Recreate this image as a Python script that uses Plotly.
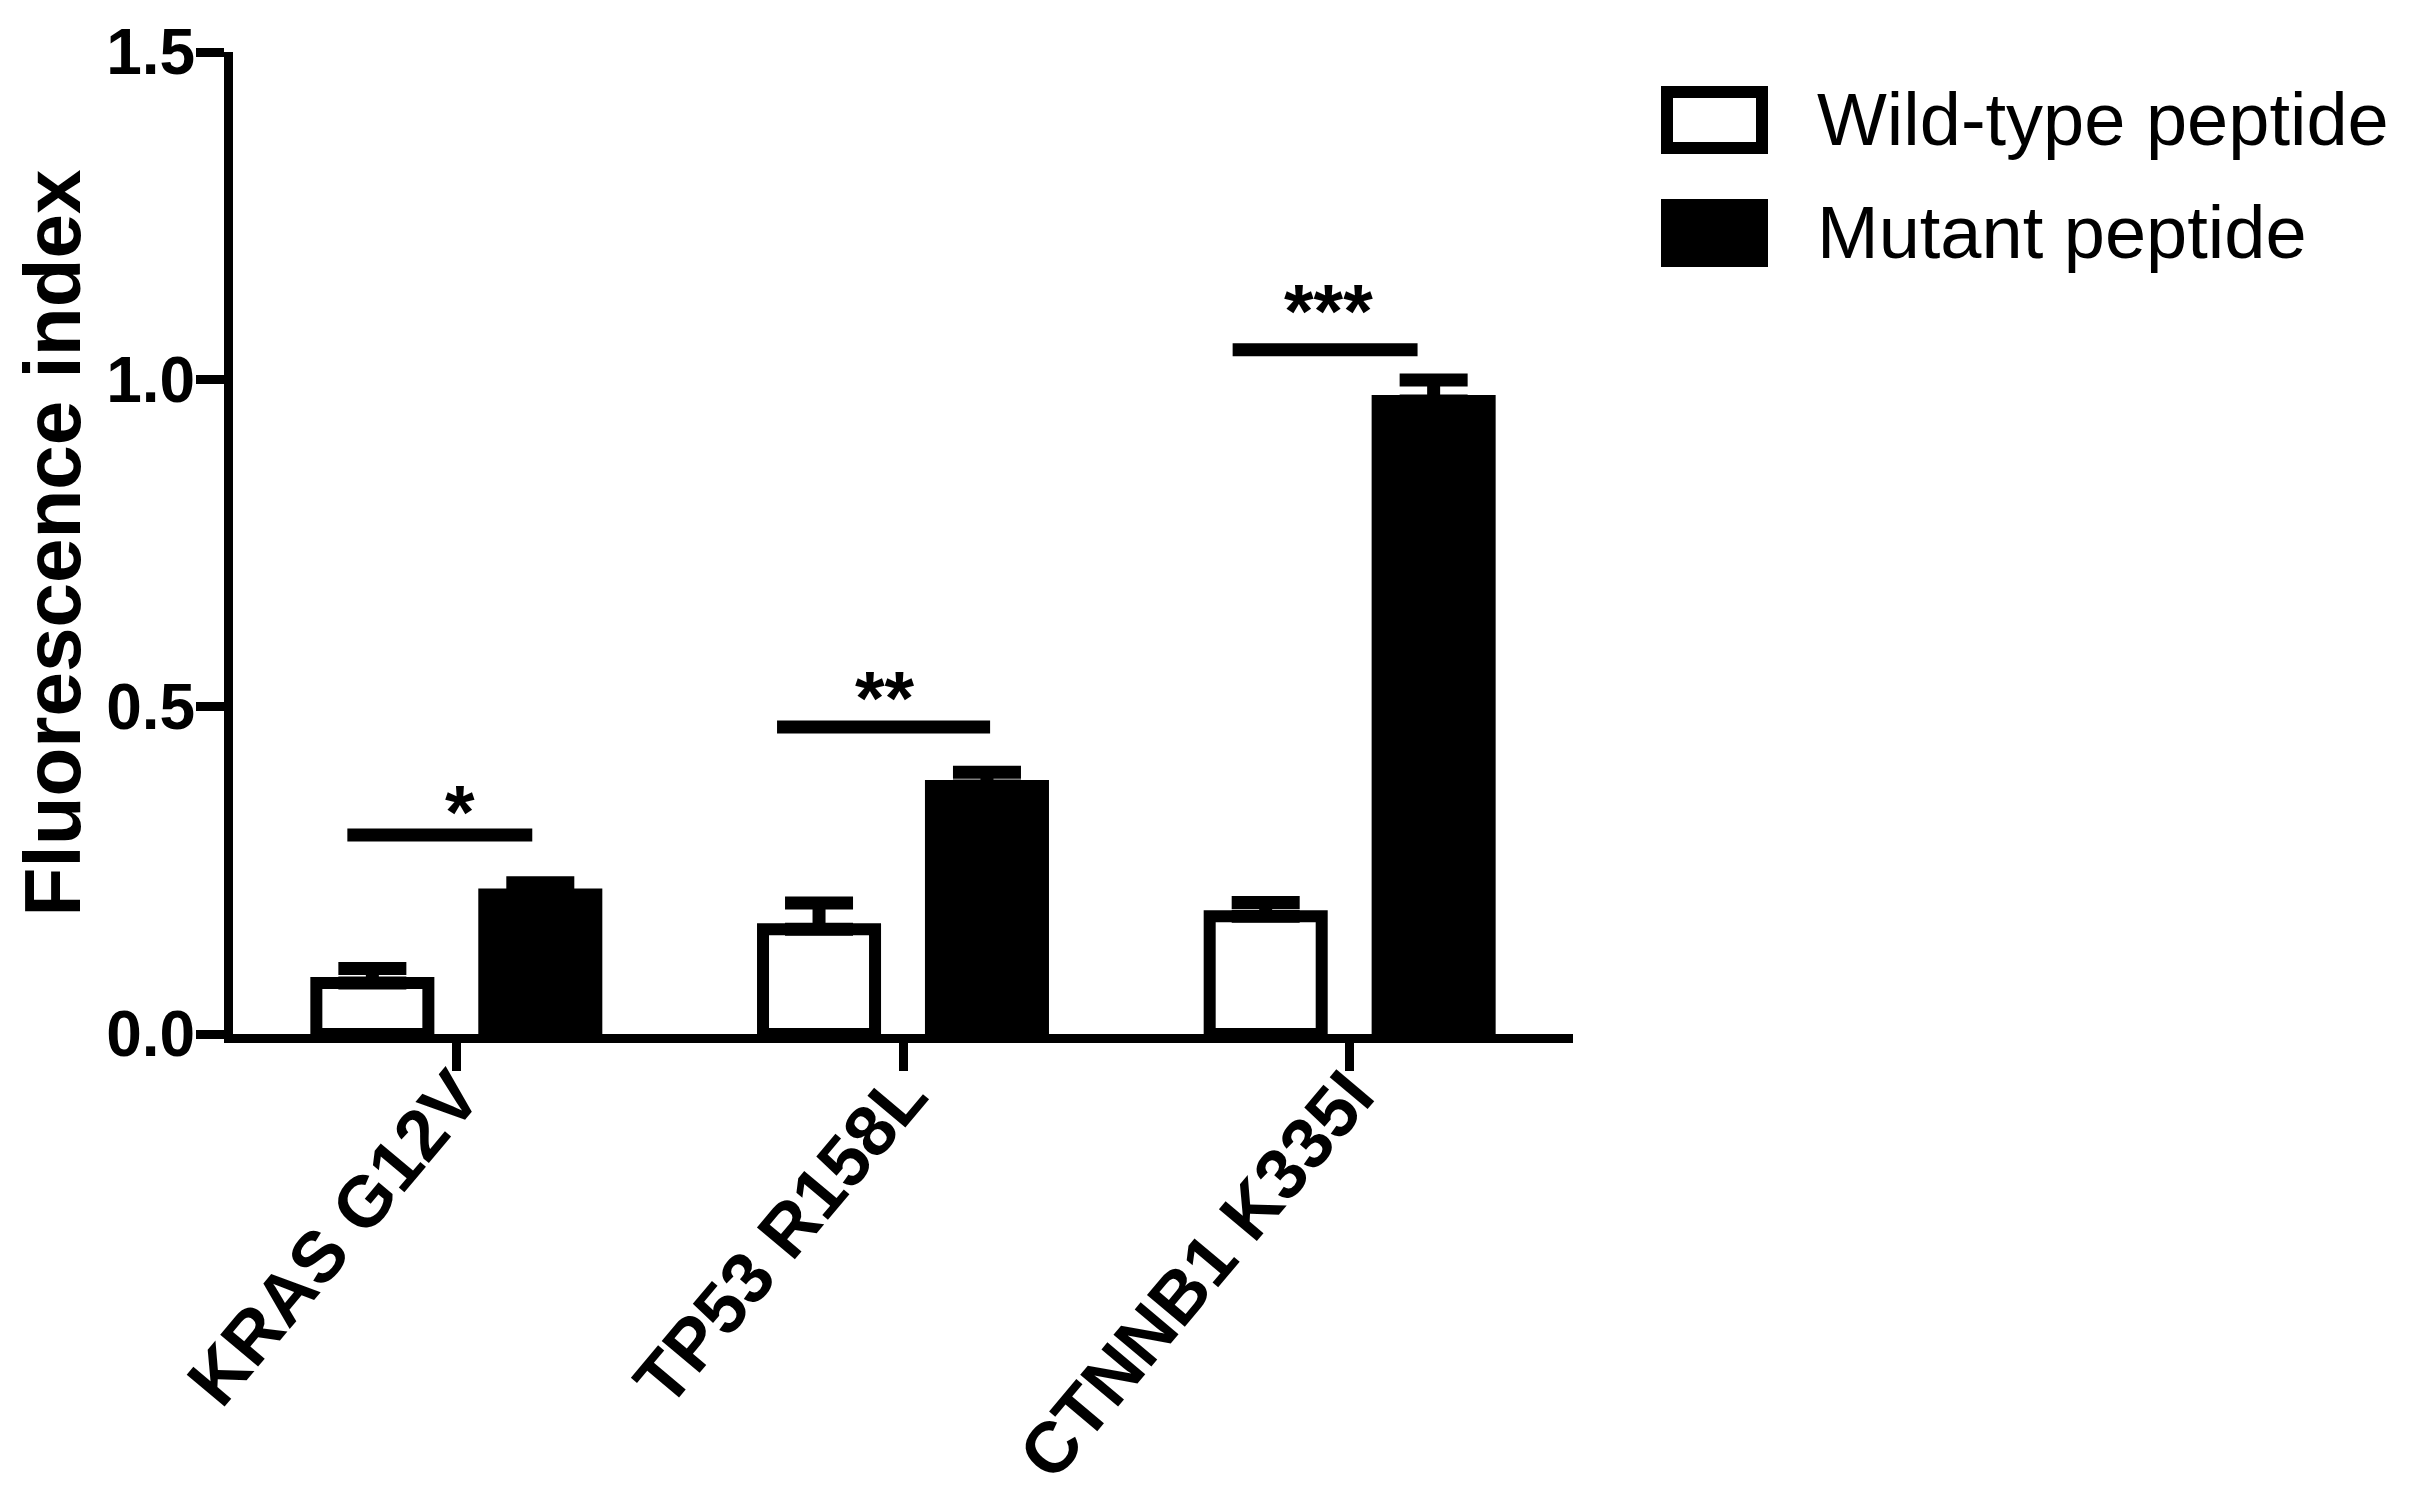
import plotly.graph_objects as go

categories = ["KRAS G12V", "TP53 R158L", "CTNNB1 K335I"]
series_names = ["Wild-type peptide", "Mutant peptide"]
wild_type = [0.078, 0.160, 0.180]
wild_type_err = [0.022, 0.040, 0.021]
mutant = [0.213, 0.379, 0.967]
mutant_err = [0.018, 0.021, 0.032]

# significance brackets (y level, left/right extent relative to the group centre)
sig_labels = ["*", "**", "***"]
sig_y = [0.304, 0.469, 1.045]
sig_left = [-0.244, -0.282, -0.262]
sig_right = [0.170, 0.195, 0.152]
star_y = [0.353, 0.527, 1.119]
star_dx = [0.009, -0.040, -0.047]

y_ticks = [0, 0.5, 1.0, 1.5]

# the browser puts the figure 8px in from the page corner (default body margin)
PAGE_OFFSET = 8
W, H = 2409 - PAGE_OFFSET, 1512 - PAGE_OFFSET
M_L, M_R, M_T, M_B = 225, 836, 44, 478
SANS = "Liberation Sans, Arial, Helvetica"


def paper_x(px):
    return (px - PAGE_OFFSET - M_L) / (W - M_L - M_R)


def paper_y(py):
    return (H - M_B - (py - PAGE_OFFSET)) / (H - M_T - M_B)


xs = list(range(len(categories)))

fig = go.Figure()
for name, vals, errs, fill in [
    (series_names[0], wild_type, wild_type_err, "white"),
    (series_names[1], mutant, mutant_err, "black"),
]:
    fig.add_trace(
        go.Bar(
            x=xs,
            y=vals,
            name=name,
            marker=dict(color=fill, line=dict(color="black", width=12)),
            error_y=dict(
                type="data",
                array=errs,
                arrayminus=[0] * len(errs),
                symmetric=False,
                color="black",
                thickness=13,
                width=34,
            ),
            showlegend=False,
        )
    )

for i, x in enumerate(xs):
    fig.add_trace(
        go.Scatter(
            x=[x + sig_left[i], x + sig_right[i]],
            y=[sig_y[i], sig_y[i]],
            mode="lines",
            line=dict(color="black", width=13),
            showlegend=False,
            hoverinfo="skip",
        )
    )
    fig.add_annotation(
        x=x + star_dx[i],
        y=star_y[i],
        text=sig_labels[i],
        showarrow=False,
        yanchor="middle",
        yshift=-9,
        font=dict(family=SANS, size=76, color="black", weight="bold"),
    )

# legend drawn by hand so the swatches can be as large as in the original
legend_rows = [(92, 148, "white"), (205, 261, "black")]
for (top, bottom, fill), name in zip(legend_rows, series_names):
    fig.add_shape(
        type="rect",
        xref="paper",
        yref="paper",
        x0=paper_x(1667),
        x1=paper_x(1762),
        y0=paper_y(bottom),
        y1=paper_y(top),
        fillcolor=fill,
        line=dict(color="black", width=12),
    )
    fig.add_annotation(
        xref="paper",
        yref="paper",
        x=paper_x(1815),
        y=paper_y((top + bottom) / 2 - 1),
        text=name,
        showarrow=False,
        xanchor="left",
        yanchor="middle",
        font=dict(family=SANS, size=74, color="black"),
    )

fig.update_layout(
    width=W,
    height=H,
    margin=dict(l=M_L, r=M_R, t=M_T, b=M_B, autoexpand=False),
    paper_bgcolor="white",
    plot_bgcolor="white",
    barmode="group",
    bargap=0.248,
    bargroupgap=0.333,
    showlegend=False,
)

fig.update_xaxes(
    range=[-0.5, 2.5],
    tickvals=xs,
    ticktext=categories,
    tickangle=-50,
    ticks="outside",
    ticklen=28,
    tickwidth=9,
    tickcolor="black",
    ticklabelstandoff=-47,
    showline=True,
    linewidth=9,
    linecolor="black",
    showgrid=False,
    zeroline=False,
    tickfont=dict(family=SANS, size=72, color="black", weight="bold"),
)

fig.update_yaxes(
    range=[0, 1.5],
    tickvals=y_ticks,
    tickformat=".1f",
    ticks="outside",
    ticklen=28,
    tickwidth=9,
    tickcolor="black",
    ticklabelstandoff=-12,
    showline=True,
    linewidth=9,
    linecolor="black",
    showgrid=False,
    zeroline=False,
    tickfont=dict(family=SANS, size=64, color="black", weight="bold"),
    title=dict(
        text="Fluorescence index",
        standoff=53,
        font=dict(family=SANS, size=80, color="black", weight="bold"),
    ),
)

fig.write_html("out.html")
